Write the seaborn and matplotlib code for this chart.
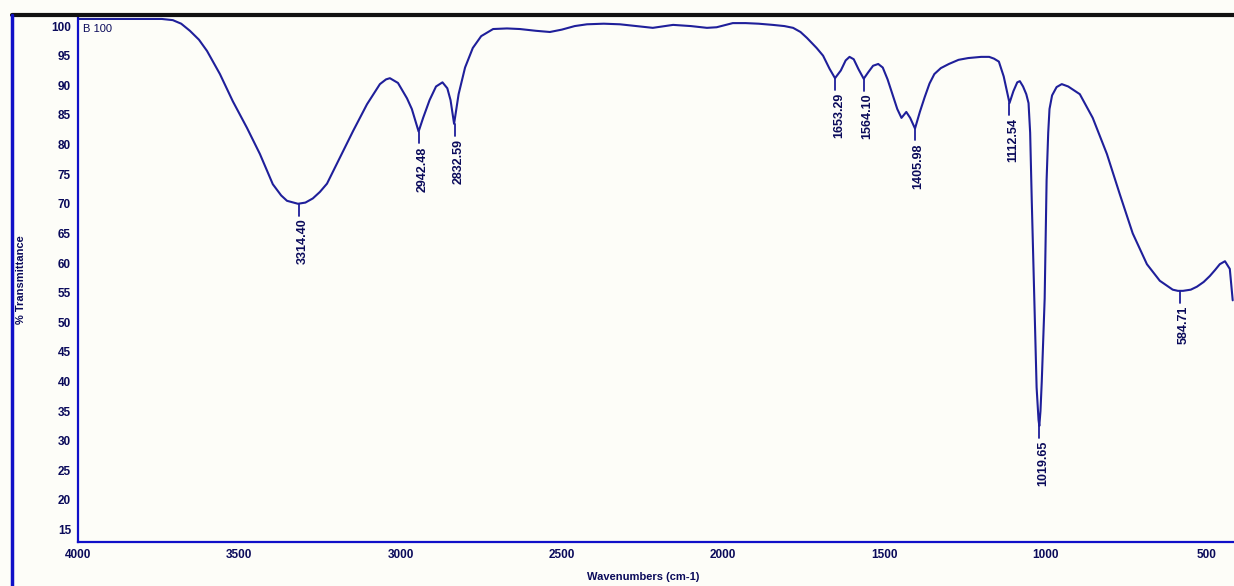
import matplotlib
matplotlib.use("Agg")
import matplotlib.pyplot as plt
import seaborn as sns
import pandas as pd
from matplotlib.ticker import MultipleLocator
from matplotlib.lines import Line2D

# ---- data ----
wavenumber = [4000, 3900, 3800, 3740, 3706, 3680, 3653, 3625, 3600, 3560, 3520, 3476,
              3436, 3396, 3370, 3352, 3318, 3295, 3272, 3250, 3228, 3188, 3147, 3104,
              3064, 3045, 3033, 3008, 2980, 2965, 2944, 2930, 2910, 2890, 2870, 2855,
              2845, 2834, 2820, 2800, 2776, 2750, 2713, 2670, 2630, 2580, 2537, 2500,
              2460, 2422, 2370, 2320, 2270, 2218, 2155, 2100, 2050, 2020, 1970, 1930,
              1890, 1846, 1810, 1783, 1760, 1740, 1710, 1690, 1670, 1653, 1635, 1620,
              1608, 1595, 1580, 1564, 1550, 1535, 1519, 1505, 1490, 1475, 1460, 1447,
              1432, 1420, 1405, 1390, 1375, 1360, 1345, 1325, 1300, 1270, 1240, 1200,
              1175, 1160, 1145, 1130, 1112, 1100, 1088, 1080, 1070, 1060, 1053, 1048,
              1043, 1038, 1034, 1028, 1022, 1019.6, 1016, 1012, 1007, 1003, 1000, 997,
              992, 988, 980, 966, 950, 930, 894, 854, 810, 770, 730, 686, 646, 606,
              590, 574, 550, 531, 510, 491, 475, 460, 444, 429, 420]
transmittance = [101.2, 101.2, 101.2, 101.2, 101.0, 100.4, 99.2, 97.7, 95.8, 91.9, 87.3, 82.8,
                 78.4, 73.3, 71.4, 70.5, 70.0, 70.2, 70.9, 72.0, 73.4, 77.8, 82.3, 86.8,
                 90.2, 91.0, 91.2, 90.4, 87.8, 86.0, 82.2, 84.5, 87.5, 89.8, 90.5, 89.5,
                 87.5, 83.5, 88.5, 93.0, 96.3, 98.3, 99.5, 99.6, 99.5, 99.2, 99.0, 99.4,
                 100.0, 100.3, 100.4, 100.3, 100.0, 99.7, 100.2, 100.0, 99.7, 99.8, 100.5, 100.5,
                 100.4, 100.2, 100.0, 99.7, 99.0, 98.0, 96.3, 95.0, 92.8, 91.2, 92.5, 94.2,
                 94.8, 94.4, 92.7, 91.1, 92.2, 93.3, 93.6, 93.0, 91.0, 88.5, 86.0, 84.5,
                 85.5, 84.5, 82.7, 85.5, 88.0, 90.3, 91.9, 92.9, 93.6, 94.3, 94.6, 94.8,
                 94.8, 94.5, 94.0, 91.5, 87.0, 89.0, 90.5, 90.7, 89.8, 88.5, 87.0, 82.0,
                 70.5, 60.0, 51.5, 39.0, 33.5, 32.5, 35.0, 40.0, 48.0, 54.0, 64.0, 74.0,
                 82.0, 86.0, 88.3, 89.7, 90.2, 89.8, 88.5, 84.5, 78.4, 71.6, 65.0, 59.8, 57.0, 55.5,
                 55.3, 55.3, 55.5, 56.0, 56.8, 57.8, 58.8, 59.8, 60.3, 59.0, 53.7]

peak_wn = [3314.40, 2942.48, 2832.59, 1653.29, 1564.10, 1405.98, 1112.54, 1019.65, 584.71]
peak_t = [70.0, 82.2, 83.5, 91.2, 91.1, 82.7, 87.0, 32.5, 55.3]
peak_labels = ["3314.40", "2942.48", "2832.59", "1653.29", "1564.10", "1405.98",
               "1112.54", "1019.65", "584.71"]

y_ticks = list(range(15, 101, 5))
x_ticks = [4000, 3500, 3000, 2500, 2000, 1500, 1000, 500]

df = pd.DataFrame({"Wavenumber": wavenumber, "T": transmittance})

sns.set_theme(style="white")
plt.rcParams["font.family"] = ["Liberation Sans", "DejaVu Sans"]

BG = "#fdfdf8"
LINE = "#1f1f9a"
AXC = "#1010c8"
TXT = "#0a0a5a"

fig = plt.figure(figsize=(12.34, 5.86), dpi=100, facecolor=BG)
ax = fig.add_axes([78 / 1234, 1 - 542 / 586, 1 - 78 / 1234, (542 - 16) / 586])
ax.set_facecolor(BG)

sns.lineplot(data=df, x="Wavenumber", y="T", ax=ax, color=LINE, linewidth=1.5,
             estimator=None, sort=False)

ax.set_xlim(4000, 416)
ax.set_ylim(12.9, 101.7)

ax.set_xticks(x_ticks)
ax.set_yticks(y_ticks)
ax.xaxis.set_minor_locator(MultipleLocator(100))
ax.yaxis.set_minor_locator(MultipleLocator(1))
ax.tick_params(axis="both", which="major", direction="inout", length=6, width=1.2,
               color=AXC, labelsize=8.5, labelcolor=TXT, pad=2)
ax.tick_params(axis="both", which="minor", direction="inout", length=3, width=1.0, color=AXC)
for lab in ax.get_xticklabels() + ax.get_yticklabels():
    lab.set_fontweight("bold")

for side in ["top", "right"]:
    ax.spines[side].set_visible(False)
for side in ["left", "bottom"]:
    ax.spines[side].set_color(AXC)
    ax.spines[side].set_linewidth(1.6)

ax.set_xlabel("")
ax.set_ylabel("")

# peak markers and labels
for wn, t, lab in zip(peak_wn, peak_t, peak_labels):
    ax.plot([wn, wn], [t, t - 2.0], color=LINE, linewidth=1.3)
    ax.annotate(lab, xy=(wn, t - 2.0), xytext=(4, -3), textcoords="offset pixels",
                rotation=90, ha="center", va="top", fontsize=9, fontweight="bold",
                color=TXT)

ax.text(0.004, 0.985, "B 100", transform=ax.transAxes, ha="left", va="top",
        fontsize=8, color=TXT)

# figure-level frame lines and labels
fig.add_artist(Line2D([12 / 1234, 1], [1 - 15 / 586, 1 - 15 / 586], color="#111111",
                      linewidth=3, transform=fig.transFigure))
fig.add_artist(Line2D([12 / 1234, 12 / 1234], [0, 1 - 15 / 586], color=AXC,
                      linewidth=2.5, transform=fig.transFigure))
fig.text(21 / 1234, 1 - 280 / 586, "% Transmittance", rotation=90, ha="center", va="center",
         fontsize=8, fontweight="bold", color=TXT)
fig.text(643 / 1234, 1 - 577 / 586, "Wavenumbers (cm-1)", ha="center", va="center",
         fontsize=8, fontweight="bold", color=TXT)

fig.savefig("out.png", dpi=100, facecolor=BG)
